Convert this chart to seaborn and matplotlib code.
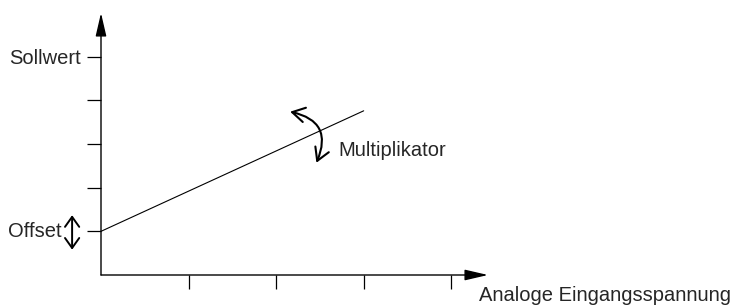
import seaborn as sns
import matplotlib.pyplot as plt

# Kennlinie: Eingangsspannung -> Sollwert
x_values = [0, 3]
y_values = [1, 3.76]

x_ticks = [1, 2, 3, 4]
y_ticks = [1, 2, 3, 4, 5]
y_tick_labels = ['', '', '', '', 'Sollwert']

x_label = 'Analoge Eingangsspannung'
offset_label = 'Offset'
slope_label = 'Multiplikator'

sns.set_theme(style='white')
plt.rcParams['font.family'] = ['Liberation Sans', 'DejaVu Sans']

fig = plt.figure(figsize=(7.39, 3.05), dpi=100)
ax = fig.add_axes([101 / 739, 30 / 305, 387 / 739, 262 / 305])
ax.set_xlim(0, 4.42)
ax.set_ylim(0, 6.0)

# Achsen als Pfeile
for s in ax.spines.values():
    s.set_visible(False)
arrow = dict(arrowstyle='-|>,head_length=0.95,head_width=0.22', color='black',
             lw=1.0, mutation_scale=15, shrinkA=0, shrinkB=0)
ax.annotate('', xy=(1, 0), xytext=(0, 0), xycoords='axes fraction',
            arrowprops=arrow, annotation_clip=False)
ax.annotate('', xy=(0, 1), xytext=(0, 0), xycoords='axes fraction',
            arrowprops=arrow, annotation_clip=False)

# Kennlinie
sns.lineplot(x=x_values, y=y_values, color='black', linewidth=0.8, ax=ax)

ax.set_xticks(x_ticks)
ax.set_xticklabels([])
ax.set_yticks(y_ticks)
ax.set_yticklabels(y_tick_labels, fontsize=14.5)
ax.tick_params(axis='both', direction='out', length=10, width=0.9,
               color='black', pad=4.5, left=True, bottom=True)

# Beschriftungen
ax.text(4.32, -0.48, x_label, fontsize=14.5, ha='left', va='center',
        clip_on=False)
ax.text(-0.45, y_values[0], offset_label, fontsize=14.5, ha='right',
        va='center', clip_on=False)
ax.annotate('', xy=(-0.33, 0.58), xytext=(-0.33, 1.37),
            arrowprops=dict(arrowstyle='<->,head_length=0.45,head_width=0.32',
                            color='black', lw=1.4, mutation_scale=16,
                            shrinkA=0, shrinkB=0),
            annotation_clip=False)

ax.text(2.71, 2.73, slope_label, fontsize=14.5, ha='left', va='baseline')
ax.annotate('', xy=(2.46, 2.57), xytext=(2.16, 3.74),
            arrowprops=dict(arrowstyle='<->,head_length=0.6,head_width=0.35',
                            color='black', lw=1.5, mutation_scale=15,
                            shrinkA=0, shrinkB=0,
                            connectionstyle='arc3,rad=-0.6'))

ax.set_xlabel('')
ax.set_ylabel('')
fig.savefig('out.png', dpi=100)
